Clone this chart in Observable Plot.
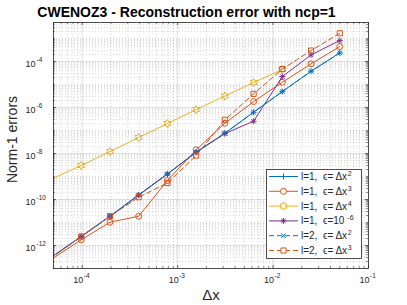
<!DOCTYPE html>
<html><head><meta charset="utf-8">
<script src="https://cdn.jsdelivr.net/npm/d3@7"></script>
<script src="https://cdn.jsdelivr.net/npm/@observablehq/plot@0.6"></script>
<style>
html,body{margin:0;padding:0;background:#fff;}
#chart{width:407px;height:305px;}
svg{font-family:"Liberation Sans",Arial,Helvetica,sans-serif;}
</style></head><body><div id="chart"></div>
<script>
// ---- data ----
const dx = [0.05, 0.025, 0.0125, 0.00625, 0.003125, 0.0015625, 0.00078125, 0.000390625, 0.0001953125, 0.00009765625, 0.000048828125];
const errL1Dx2  = [2.39e-4, 3.79e-5, 4.97e-6, 6.25e-7, 7.64e-8, 1.14e-8, 1.29e-9, 1.57e-10, 1.88e-11, 2.46e-12, 3.33e-13];
const errL1Dx3  = [4.49e-4, 7.94e-5, 1.26e-5, 1.82e-6, 2.07e-7, 1.45e-8, 6.70e-10, 1.88e-11, 1.03e-11, 1.77e-12, 2.72e-13];
const errL1Dx4  = [null, null, 4.49e-5, 1.22e-5, 3.16e-6, 8.18e-7, 2.01e-7, 4.97e-8, 1.22e-8, 3.01e-9, 8.18e-10];
const errL1Eps6 = [8.18e-4, 1.95e-4, 2.23e-5, 2.54e-7, 7.4e-8, 1.14e-8, 1.29e-9, 1.57e-10, 1.88e-11, 2.46e-12, 3.33e-13];
const errL2Dx2  = [2.39e-4, 3.79e-5, 4.97e-6, 6.25e-7, 7.64e-8, 1.14e-8, 1.29e-9, 1.57e-10, 1.88e-11, 2.46e-12, 3.33e-13];
const errL2Dx3  = [1.70e-3, 3.01e-4, 4.72e-5, 3.94e-6, 2.92e-7, 8.18e-9, 5.21e-10, 1.26e-10, 1.88e-11, 2.46e-12, 3.33e-13];

const legendLabels = ["l=1,  ϵ= Δx", "l=1,  ϵ= Δx", "l=1,  ϵ= Δx", "l=1,  ϵ=10", "l=2,  ϵ= Δx", "l=2,  ϵ= Δx"];
const legendSups   = ["2", "3", "4", "-6", "2", "3"];
const xTickExps = [-4, -3, -2, -1];
const yTickExps = [-12, -10, -8, -6, -4];
const titleText = "CWENOZ3 - Reconstruction error with ncp=1";
const xLabel = "Δx";
const yLabel = "Norm-1 errors";

// ---- symbols (MATLAB-like markers) ----
const sym = {
  plus: {draw(c, s){const a=Math.sqrt(s/Math.PI); c.moveTo(-a,0); c.lineTo(a,0); c.moveTo(0,-a); c.lineTo(0,a);}},
  circle: {draw(c, s){const a=Math.sqrt(s/Math.PI); c.moveTo(a,0); c.arc(0,0,a,0,2*Math.PI);}},
  hexagram: {draw(c, s){const R=Math.sqrt(s/Math.PI), r=R/Math.sqrt(3);
    for(let i=0;i<12;i++){const ang=-Math.PI/2+i*Math.PI/6, rr=i%2?r:R; const X=rr*Math.cos(ang), Y=rr*Math.sin(ang); if(i===0)c.moveTo(X,Y); else c.lineTo(X,Y);} c.closePath();}},
  asterisk: {draw(c, s){const a=Math.sqrt(s/Math.PI), d=a*0.72; c.moveTo(-a,0); c.lineTo(a,0); c.moveTo(0,-a); c.lineTo(0,a); c.moveTo(-d,-d); c.lineTo(d,d); c.moveTo(-d,d); c.lineTo(d,-d);}},
  times: {draw(c, s){const a=Math.sqrt(s/Math.PI)*0.72; c.moveTo(-a,-a); c.lineTo(a,a); c.moveTo(-a,a); c.lineTo(a,-a);}},
  square: {draw(c, s){const a=Math.sqrt(s/Math.PI)*0.8; c.moveTo(-a,-a); c.lineTo(a,-a); c.lineTo(a,a); c.lineTo(-a,a); c.closePath();}}
};

const seriesValues = [errL1Dx2, errL1Dx3, errL1Dx4, errL1Eps6, errL2Dx2, errL2Dx3];
const styles = [
  {color:"#0072BD", dash:null, symbol:sym.plus, r:3},
  {color:"#D95319", dash:null, symbol:sym.circle, r:3},
  {color:"#EDB120", dash:null, symbol:sym.hexagram, r:4},
  {color:"#7E2F8E", dash:null, symbol:sym.asterisk, r:3},
  {color:"#0072BD", dash:"5,3", symbol:sym.times, r:3.2},
  {color:"#D95319", dash:"5,3", symbol:sym.square, r:3.2}
];

const W = 407, H = 305;
const M = {top: 22, right: 39, bottom: 37, left: 53};
const pw = W - M.left - M.right, ph = H - M.top - M.bottom;
const xDomain = [5e-5, 0.1], yDomain = [1e-13, 5e-3];

const inDom = (v, d) => v >= d[0]*0.9999 && v <= d[1]*1.0001;
const xMajor = xTickExps.map(e => 10 ** e);
const xMinor = [];
for (let n = -5; n <= -1; n++) for (let k = 2; k <= 9; k++) { const v = k * 10 ** n; if (inDom(v, xDomain)) xMinor.push(v); }
const yMajor = yTickExps.map(e => 10 ** e);
const yMinor = [];
for (let n = -13; n <= -3; n++) for (let k = 1; k <= 9; k++) {
  const v = k * 10 ** n; if (k === 1 && n % 2 === 0) continue; if (inDom(v, yDomain)) yMinor.push(v);
}

const marks = [];
const axisC = "#262626";
marks.push(Plot.gridX(xMinor, {x: d => d, stroke: axisC, strokeOpacity: 0.3, strokeWidth: 0.6, strokeDasharray: "1,2"}));
marks.push(Plot.gridY(yMinor, {y: d => d, stroke: axisC, strokeOpacity: 0.3, strokeWidth: 0.6, strokeDasharray: "1,2"}));
marks.push(Plot.gridX(xMajor, {x: d => d, stroke: axisC, strokeOpacity: 0.15, strokeWidth: 1}));
marks.push(Plot.gridY(yMajor, {y: d => d, stroke: axisC, strokeOpacity: 0.15, strokeWidth: 1}));
// inward ticks on all four sides
marks.push(Plot.tickX(xMajor, {x: d => d, insetTop: ph - 3, stroke: axisC, strokeWidth: 0.7}));
marks.push(Plot.tickX(xMajor, {x: d => d, insetBottom: ph - 3, stroke: axisC, strokeWidth: 0.7}));
marks.push(Plot.tickX(xMinor, {x: d => d, insetTop: ph - 1.8, stroke: axisC, strokeWidth: 0.6}));
marks.push(Plot.tickX(xMinor, {x: d => d, insetBottom: ph - 1.8, stroke: axisC, strokeWidth: 0.6}));
marks.push(Plot.tickY(yMajor, {y: d => d, insetRight: pw - 3, stroke: axisC, strokeWidth: 0.7}));
marks.push(Plot.tickY(yMajor, {y: d => d, insetLeft: pw - 3, stroke: axisC, strokeWidth: 0.7}));
marks.push(Plot.tickY(yMinor, {y: d => d, insetRight: pw - 1.8, stroke: axisC, strokeWidth: 0.6}));
marks.push(Plot.tickY(yMinor, {y: d => d, insetLeft: pw - 1.8, stroke: axisC, strokeWidth: 0.6}));

seriesValues.forEach((vals, i) => {
  const st = styles[i];
  const rows = dx.map((x, j) => ({dx: x, err: vals[j]}));
  marks.push(Plot.line(rows, {x: "dx", y: "err", stroke: st.color, strokeWidth: 1, strokeDasharray: st.dash, clip: true}));
  marks.push(Plot.dot(rows.filter(d => d.err != null && inDom(d.dx, xDomain)), {x: "dx", y: "err", symbol: st.symbol, r: st.r, stroke: st.color, fill: "none", strokeWidth: 1, clip: true}));
});

marks.push(Plot.frame({stroke: axisC, strokeWidth: 0.8}));

// tick labels (10 with superscript exponent)
const T = {lineAnchor: "middle", fill: axisC};
marks.push(Plot.text(xMajor, {...T, x: d => d, frameAnchor: "bottom", dy: 12, dx: -4, textAnchor: "middle", text: () => "10", fontSize: 9}));
marks.push(Plot.text(xMajor, {...T, x: d => d, frameAnchor: "bottom", dy: 7.5, dx: 1.5, textAnchor: "start", text: d => String(Math.round(Math.log10(d))), fontSize: 6.5}));
marks.push(Plot.text(yMajor, {...T, y: d => d, frameAnchor: "left", dx: -18, dy: 3, textAnchor: "end", text: () => "10", fontSize: 9}));
marks.push(Plot.text(yMajor, {...T, y: d => d, frameAnchor: "left", dx: -17, dy: -1.5, textAnchor: "start", text: d => String(Math.round(Math.log10(d))), fontSize: 6.5}));

// axis labels and title
marks.push(Plot.text([xLabel], {...T, frameAnchor: "bottom", textAnchor: "middle", text: d => d, dy: 27, fontSize: 15}));
marks.push(Plot.text([yLabel], {...T, frameAnchor: "left", textAnchor: "middle", text: d => d, dx: -41, dy: -6, rotate: -90, fontSize: 14}));
marks.push(Plot.text([titleText], {frameAnchor: "top", textAnchor: "middle", lineAnchor: "middle", text: d => d, dy: -9.5, dx: -24.5, fontSize: 14, fontWeight: "bold", fill: "#000"}));

const plot = Plot.plot({
  width: W, height: H,
  marginTop: M.top, marginRight: M.right, marginBottom: M.bottom, marginLeft: M.left,
  x: {type: "log", domain: xDomain, axis: null},
  y: {type: "log", domain: yDomain, axis: null},
  style: {background: "white", fontFamily: "'Liberation Sans', Arial, Helvetica, sans-serif", color: axisC},
  marks
});

// legend
const svg = d3.select(plot);
const lg = svg.append("g").attr("class", "legend").attr("text-anchor", "start");
lg.append("rect").attr("x", 266.5).attr("y", 169.5).attr("width", 95).attr("height", 89)
  .attr("fill", "white").attr("stroke", axisC).attr("stroke-width", 0.8);
styles.forEach((st, i) => {
  const cy = 176.5 + i * 14.8;
  lg.append("line").attr("x1", 269).attr("x2", 298).attr("y1", cy).attr("y2", cy)
    .attr("stroke", st.color).attr("stroke-width", 1).attr("stroke-dasharray", st.dash);
  lg.append("path").attr("transform", `translate(283.5,${cy})`)
    .attr("d", d3.symbol(st.symbol, Math.PI * st.r * st.r)())
    .attr("fill", "white").attr("stroke", st.color).attr("stroke-width", 1);
  const t = lg.append("text").attr("x", 301).attr("y", cy).attr("dy", "0.35em")
    .attr("text-anchor", "start").attr("font-size", 10).attr("fill", axisC).style("white-space", "pre");
  t.append("tspan").text(legendLabels[i]);
  t.append("tspan").attr("dy", -4).attr("dx", i === 3 ? 3 : 0.5).attr("font-size", 7).text(legendSups[i]);
});

document.getElementById("chart").appendChild(plot);
</script>
</body></html>
